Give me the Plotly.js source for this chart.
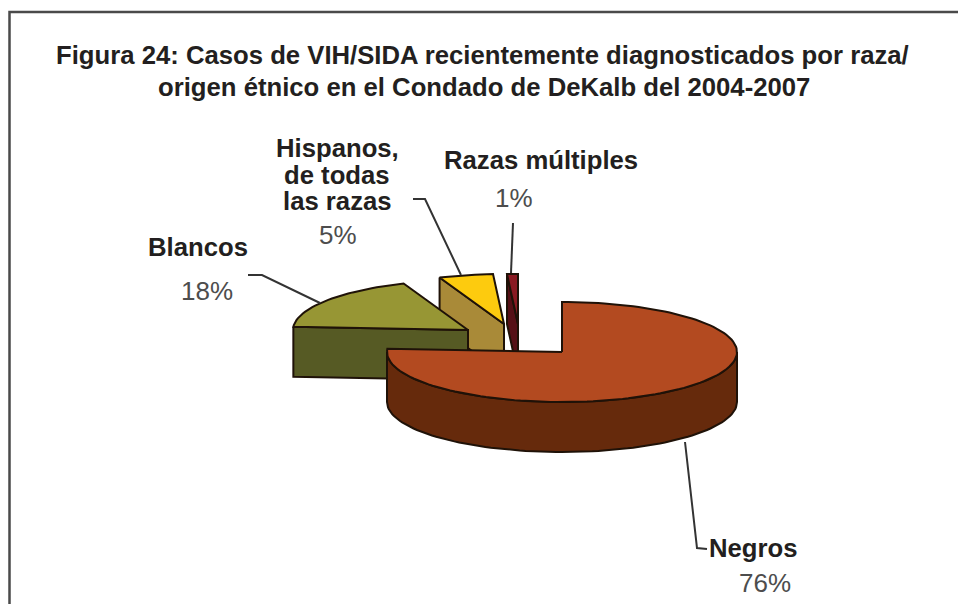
<!DOCTYPE html>
<html><head><meta charset="utf-8">
<script src="https://cdn.plot.ly/plotly-3.0.1.min.js"></script>
<style>html,body{margin:0;padding:0;background:#fff}#c{width:958px;height:604px}</style></head>
<body><div id="c"></div>
<script>
const categories = [["Negros"], ["Blancos"], ["Hispanos,","de todas","las razas"], ["Razas múltiples"]];
const values = [76, 18, 5, 1];
const percentLabels = ["76%", "18%", "5%", "1%"];
const titleLines = ["Figura 24: Casos de VIH/SIDA recientemente diagnosticados por raza/", "origen étnico en el Condado de DeKalb del 2004-2007"];

// Styling / layout
const topColors = ["#b34a20", "#979634", "#fdcb0e", "#8a1a22"];
const sideColors = ["#662a0c", "#565a24", "#a98a38", "#561016"];
const centres = [[562,352],[468,330],[504,324],[518,324]];
const RX = 175, RY = 50, DEPTH = 50, EDGE = "#1f1208";
const drawOrder = [3,2,1,0];

const total = values.reduce((a,b)=>a+b,0);
const starts = []; let acc = 0;
values.forEach(v=>{starts.push(acc/total*360); acc+=v;});
const pt=(i,deg,dz=0)=>{const t=deg*Math.PI/180,[cx,cy]=centres[i];return [cx+RX*Math.sin(t),cy-RY*Math.cos(t)+dz];};
function arc(i,a,b,dz=0){const n=Math.max(2,Math.ceil(Math.abs(b-a)/2)),o=[];for(let k=0;k<=n;k++)o.push(pt(i,a+(b-a)*k/n,dz));return o;}
function poly(p,fill,name){const c=p.concat([p[0]]);return {type:"scatter",mode:"lines",x:c.map(q=>q[0]),y:c.map(q=>q[1]),fill:"toself",fillcolor:fill,line:{color:EDGE,width:2},hoverinfo:"skip",showlegend:false,name};}

const traces=[];
drawOrder.forEach(i=>{
  const a=starts[i], b=a+values[i]/total*360, [cx,cy]=centres[i];
  // cut face on the leading edge of each slice in the back-left quadrant
  if(a>180){const rimA=pt(i,a);traces.push(poly([rimA,[cx,cy],[cx,cy+DEPTH],[rimA[0],rimA[1]+DEPTH]],sideColors[i],"cut"));}
  // outer wall, visible only for the front half
  const lo=Math.max(a,90), hi=Math.min(b,270);
  if(hi>lo) traces.push(poly(arc(i,lo,hi).concat(arc(i,hi,lo,DEPTH)),sideColors[i],"wall"));
  // top face
  traces.push(poly([[cx,cy]].concat(arc(i,a,b)),topColors[i],"top"));
});

const FAMILY="Liberation Sans, Arial, sans-serif";
const boldFont={family:FAMILY,size:25.7,color:"#231f20"};
const pctFont={family:FAMILY,size:26,color:"#4d4d4d"};
const nameAt=[[753,548],[198,247],[337,148],[541,160]];
const pctAt=[[765,583],[207,291],[338,235],[514,198]];
const LINE_STEP=26.5;
const annotations=[];
const label=(x,y,text,font)=>annotations.push({x,y,xref:"x",yref:"y",text,showarrow:false,font,xanchor:"center",yanchor:"middle"});
categories.forEach((lines,i)=>{
  lines.forEach((t,k)=>label(nameAt[i][0],nameAt[i][1]+k*LINE_STEP,"<b>"+t+"</b>",boldFont));
  label(pctAt[i][0],pctAt[i][1],percentLabels[i],pctFont);
});
label(482,55,"<b>"+titleLines[0]+"</b>",boldFont);
label(484,87,"<b>"+titleLines[1]+"</b>",boldFont);

const leaders=[
  [[685,442],[697,548],[707,549]],
  [[248,275],[262,275],[320,303]],
  [[413,199],[425,199],[461,275]],
  [[513,223],[511,273]]
];
const path=p=>"M"+p.map(q=>q.join(",")).join("L");
const shapes=leaders.map(p=>({type:"path",path:path(p),xref:"x",yref:"y",line:{color:"#333",width:2}}));
shapes.push({type:"path",path:"M9.5,604L9.5,12L958,12",xref:"x",yref:"y",line:{color:"#4a4a4a",width:2.5}});

Plotly.newPlot("c",traces,{
  width:958,height:604,margin:{l:0,r:0,t:0,b:0},
  paper_bgcolor:"#fff",plot_bgcolor:"#fff",showlegend:false,
  xaxis:{range:[0,958],visible:false,fixedrange:true},
  yaxis:{range:[604,0],visible:false,fixedrange:true},
  annotations,shapes
},{displayModeBar:false,staticPlot:true});
</script></body></html>
